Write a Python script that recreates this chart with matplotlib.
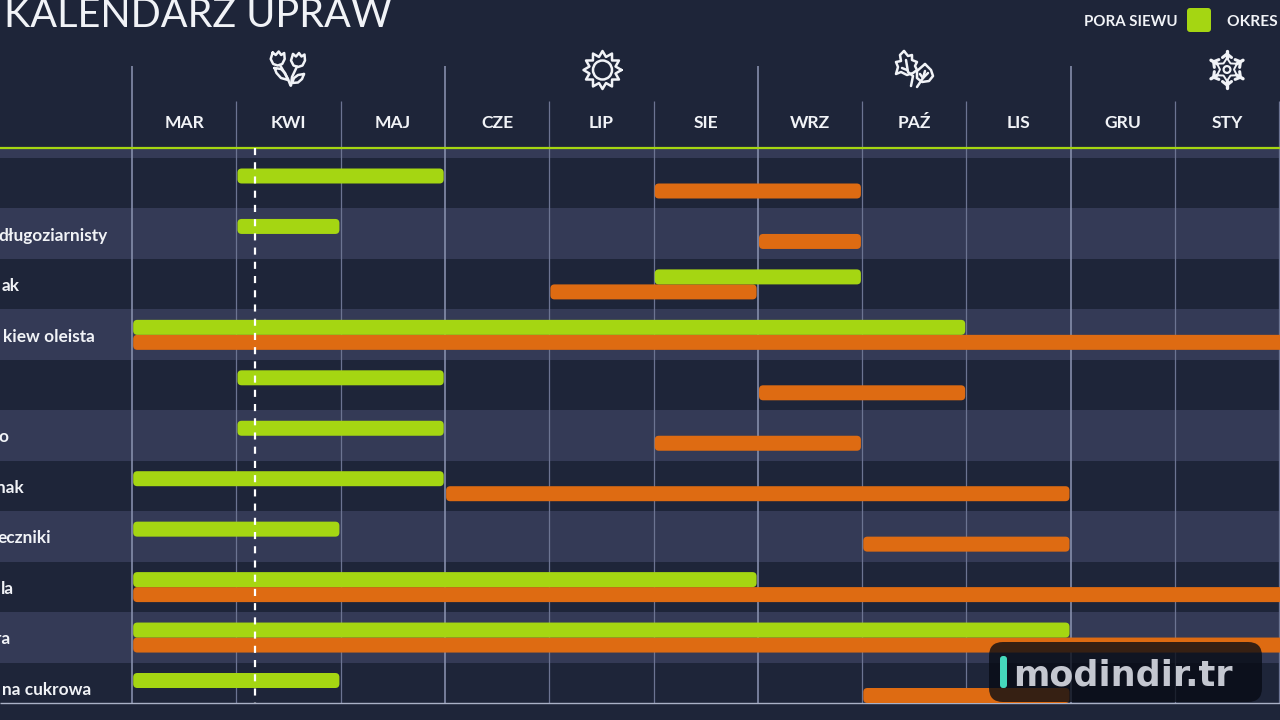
import numpy as np
import matplotlib
matplotlib.use("Agg")
import matplotlib.pyplot as plt
from matplotlib.patches import FancyBboxPatch, Circle

months = ["MAR", "KWI", "MAJ", "CZE", "LIP", "SIE", "WRZ", "PAŹ", "LIS", "GRU", "STY"]
crops = ["", "długoziarnisty", "ak", "kiew oleista", "", "o", "nak", "eczniki", "la", "ra", "na cukrowa"]
sow_start = [1, 1, 5, 0, 1, 1, 0, 0, 0, 0, 0]
sow_end = [3, 2, 7, 8, 3, 3, 3, 2, 6, 9, 2]
harvest_start = [5, 6, 4, 0, 6, 5, 3, 7, 0, 0, 7]
harvest_end = [7, 7, 6, 12, 8, 7, 9, 9, 12, 12, 9]
season_lines = [0, 3, 6, 9]
month_lines = [1, 2, 4, 5, 7, 8, 10, 11]
today = 1.18

label_end_px = [0, 108, 20, 95, 0, 8, 24, 51, 14, 10, 91]

BG = "#1e2539"
BAND = "#343a56"
GREEN = "#a5d612"
ORANGE = "#de6b12"
LINE_MAJOR = "#858dab"
LINE_MINOR = "#6c7492"
WHITE = "#f1f3f7"
FONT = "Lato"

fig = plt.figure(figsize=(12.8, 7.2), dpi=100, facecolor=BG)

MW, RH, X0, Y0 = 104.3, 50.45, 132.0, 158.0
ax = fig.add_axes([0, 0, 1, 1])
ax.set_xlim(-X0 / MW, (1280 - X0) / MW)
ax.set_ylim((720 - Y0) / RH, -Y0 / RH)
ax.axis("off")

ax.axhspan(-9 / RH, 0, color=BAND, lw=0, zorder=1)
for r in range(len(crops)):
    if r % 2 == 1:
        ax.axhspan(r, r + 1, color=BAND, lw=0, zorder=1)
bottom = (703 - Y0) / RH

ax.vlines(season_lines, (66 - Y0) / RH, bottom, color=LINE_MAJOR, lw=1.2, zorder=2)
ax.vlines(month_lines, (101 - Y0) / RH, bottom, color=LINE_MINOR, lw=0.9, zorder=2)
ax.hlines(bottom, ax.get_xlim()[0], ax.get_xlim()[1], color="#aab1c6", lw=1.0, zorder=2)
ax.axhline(-10 / RH, color=GREEN, lw=1.6, zorder=3)


def bar(start, end, cy, color):
    h = 15 / RH
    inset = 1.2 / MW
    ax.add_patch(FancyBboxPatch((start + inset, cy - h / 2), end - start - 2 * inset, h,
                                boxstyle="round,pad=0,rounding_size=0.04",
                                mutation_aspect=2.07, fc=color, ec="none", zorder=4))


for r in range(len(crops)):
    bar(harvest_start[r], harvest_end[r], r + 33 / RH, ORANGE)
    bar(sow_start[r], sow_end[r], r + 18 / RH, GREEN)
    if crops[r]:
        ax.text((label_end_px[r] - X0) / MW, r + 0.54, crops[r], ha="right", va="center", color=WHITE,
                fontsize=12.4, fontweight="bold", family=FONT, zorder=5)

ax.vlines(today, -10 / RH, bottom, color="white", lw=1.6, linestyles=(0, (3.2, 3.2)), zorder=6)

for i, m in enumerate(months):
    ax.text(i + 0.5, (122.5 - Y0) / RH, m, ha="center", va="center", color=WHITE,
            fontsize=12.6, fontweight="bold", family=FONT, zorder=5)

px = fig.add_axes([0, 0, 1, 1], facecolor="none")
px.set_xlim(0, 1280)
px.set_ylim(720, 0)
px.axis("off")

px.text(4, 27, "KALENDARZ UPRAW", ha="left", va="baseline", color=WHITE, fontsize=28.5,
        fontweight="normal", family=FONT)
px.text(1084, 21.5, "PORA SIEWU", ha="left", va="center", color=WHITE, fontsize=10.8,
        fontweight="bold", family=FONT)
px.text(1227, 21.5, "OKRES ZBIORÓW", ha="left", va="center", color=WHITE, fontsize=11.2,
        fontweight="bold", family=FONT)
px.add_patch(FancyBboxPatch((1187, 8), 24, 24, boxstyle="round,pad=0,rounding_size=3",
                            fc=GREEN, ec="none"))

lw_i = 1.8


def stroke(points, lw=lw_i, closed=False):
    p = np.array(points, float)
    if closed:
        p = np.vstack([p, p[0]])
    px.plot(p[:, 0], p[:, 1], color=WHITE, lw=lw, solid_capstyle="round", solid_joinstyle="round")


# flower icon
for cx, cy in [(277.7, 59), (298, 60.5)]:
    stroke([(cx - 5, cy - 6.5), (cx - 2, cy - 4), (cx + 1, cy - 7.5), (cx + 3.5, cy - 4), (cx + 6.5, cy - 6),
            (cx + 7, cy), (cx + 4.5, cy + 5), (cx, cy + 6.5), (cx - 4.5, cy + 5), (cx - 7, cy)], closed=True)
stroke([(280, 65), (288, 79), (290.5, 85.5)])
stroke([(297, 66.5), (292, 77), (291, 85.5)])
stroke([(274.5, 68), (281, 69), (285, 73), (288, 80), (281, 78), (276.5, 73)], closed=True)
stroke([(304, 74), (298, 75), (294, 78), (292, 83), (298, 82.5), (302, 79)], closed=True)

# sun icon
c = (602.5, 70)
ang = np.linspace(0, 2 * np.pi, 24, endpoint=False)
rad = np.where(np.arange(24) % 2 == 0, 19, 13.5)
stroke(np.c_[c[0] + rad * np.cos(ang), c[1] + rad * np.sin(ang)], closed=True)
px.add_patch(Circle(c, 9.5, fc="none", ec=WHITE, lw=lw_i))

# leaves icon
stroke([(904, 51), (908, 56), (912, 55), (912, 60), (917, 62), (915, 66), (917, 70), (913, 73),
        (907, 75), (901, 72), (896, 74), (898, 67), (896, 62), (901, 61), (900, 55)], closed=True)
stroke([(906, 60), (908, 72), (913, 76), (911, 86)])
stroke([(902, 68), (907, 70)])
stroke([(925, 64), (931, 70), (933, 76), (929, 81), (922, 82), (917, 78), (917, 71)], closed=True)
stroke([(925, 71), (923, 78), (917, 87)])
stroke([(920, 74), (923, 78), (928, 73)])

# snowflake icon
c = np.array([1227.0, 69.5])
px.add_patch(Circle(c, 3.4, fc="none", ec=WHITE, lw=1.6))
ang12 = np.deg2rad(np.arange(30, 390, 30))
rad12 = np.where(np.arange(12) % 2 == 0, 11.5, 7.0)
stroke(np.c_[c[0] + rad12 * np.cos(ang12), c[1] + rad12 * np.sin(ang12)], lw=1.4, closed=True)
for a in np.deg2rad(np.arange(30, 390, 60)):
    d = np.array([np.cos(a), np.sin(a)])
    n = np.array([-d[1], d[0]])
    stroke([c + 11.5 * d, c + 18.5 * d], lw=2.4)
    stroke([c + 12 * d + 4.5 * n, c + 15.5 * d, c + 12 * d - 4.5 * n], lw=2.2)

# watermark
px.add_patch(FancyBboxPatch((989, 642), 273, 60, boxstyle="round,pad=0,rounding_size=14",
                            fc="#070b14", ec="none", alpha=0.78, zorder=10))
px.add_patch(FancyBboxPatch((1000, 656), 7, 32, boxstyle="round,pad=0,rounding_size=3",
                            fc="#45d8bc", ec="none", zorder=11))
px.text(1013, 685, "modindir.tr", ha="left", va="baseline", color="#c4c7d0", fontsize=25.2,
        fontweight="bold", family="DejaVu Sans", zorder=11)

fig.savefig("out.png", dpi=100, facecolor=BG)
